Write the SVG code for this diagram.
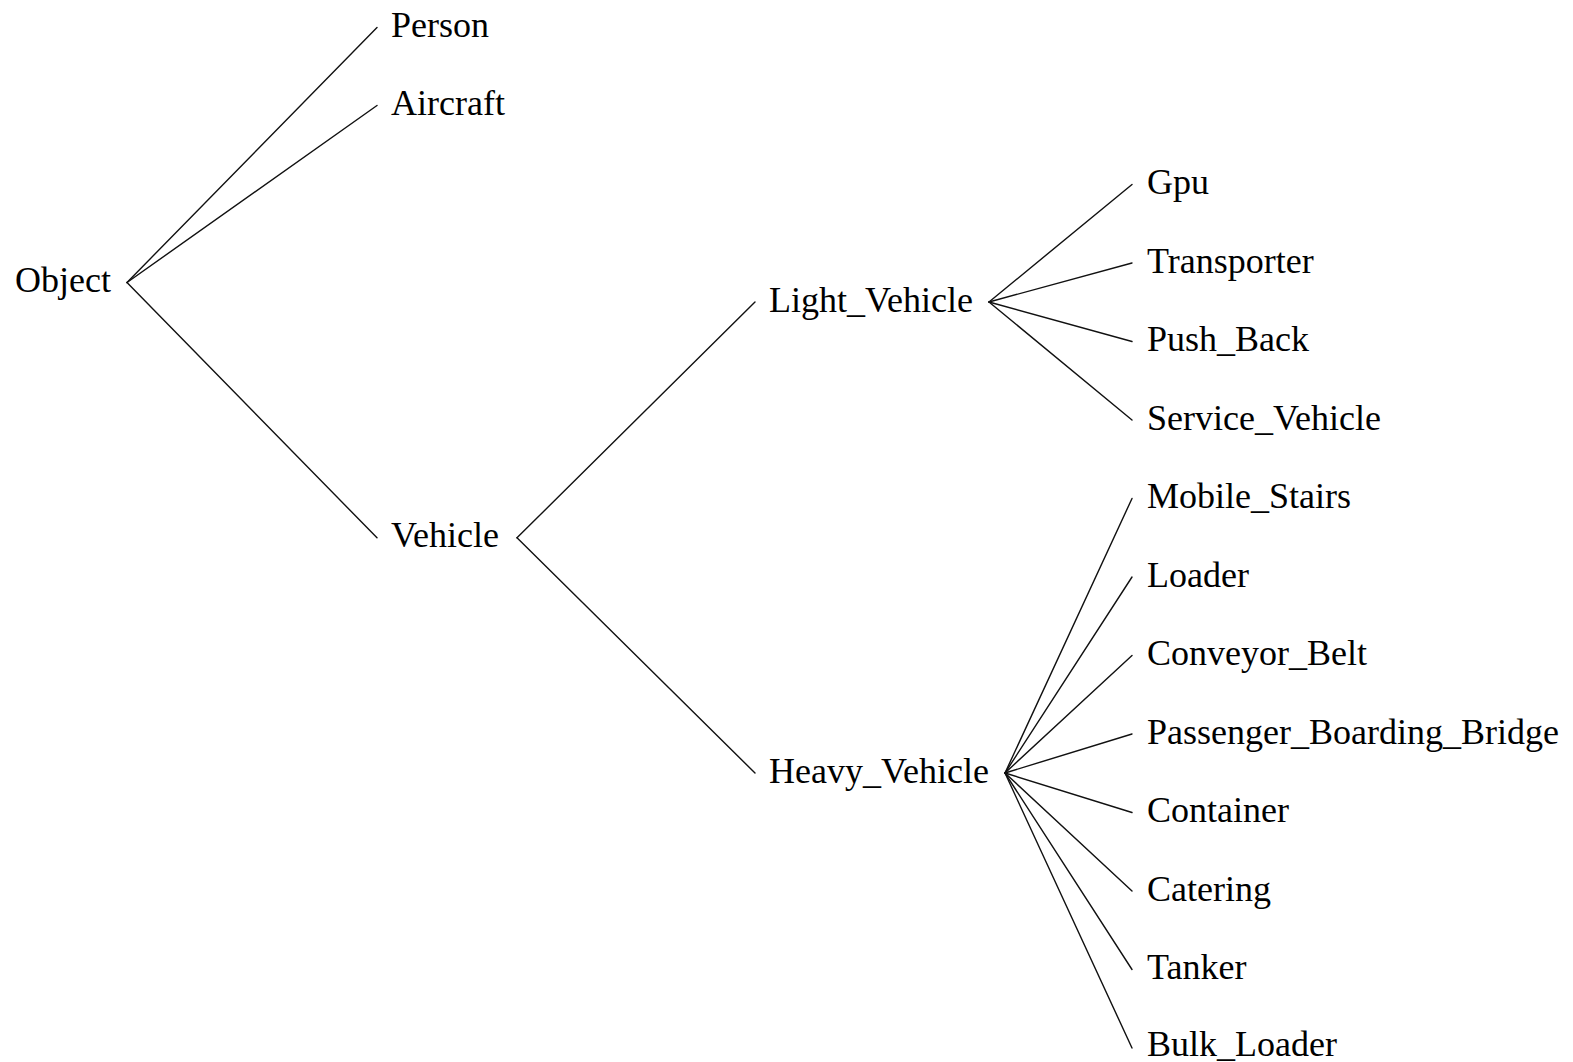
<svg xmlns="http://www.w3.org/2000/svg" width="1573" height="1062" viewBox="0 0 1573 1062">
  <style>
    .label { font-family: "Liberation Serif", "Times New Roman", serif; font-size: 36px; fill: #000; }
    .edge { stroke: #111; stroke-width: 1.4; fill: none; stroke-linecap: round; }
  </style>
  <rect width="1573" height="1062" fill="#fff"/>

  <!-- tree edges: each runs from the parent's east anchor to the child's west anchor -->
  <g id="connectors">
    <line class="edge" x1="127" y1="282.5" x2="377" y2="27.5"/>
    <line class="edge" x1="127" y1="282.5" x2="377" y2="105.5"/>
    <line class="edge" x1="127" y1="282.5" x2="377" y2="537.8"/>

    <line class="edge" x1="517" y1="537.8" x2="755" y2="302"/>
    <line class="edge" x1="517" y1="537.8" x2="755" y2="773"/>

    <line class="edge" x1="989" y1="302" x2="1132" y2="184.5"/>
    <line class="edge" x1="989" y1="302" x2="1132" y2="263"/>
    <line class="edge" x1="989" y1="302" x2="1132" y2="341.5"/>
    <line class="edge" x1="989" y1="302" x2="1132" y2="420"/>

    <line class="edge" x1="1005" y1="773" x2="1132" y2="498.5"/>
    <line class="edge" x1="1005" y1="773" x2="1132" y2="577"/>
    <line class="edge" x1="1005" y1="773" x2="1132" y2="655.5"/>
    <line class="edge" x1="1005" y1="773" x2="1132" y2="734"/>
    <line class="edge" x1="1005" y1="773" x2="1132" y2="812.5"/>
    <line class="edge" x1="1005" y1="773" x2="1132" y2="891"/>
    <line class="edge" x1="1005" y1="773" x2="1132" y2="969.5"/>
    <line class="edge" x1="1005" y1="773" x2="1132" y2="1048"/>
  </g>

  <!-- root -->
  <g id="node-object"><text class="label" x="15" y="292">Object</text></g>

  <!-- level 1 -->
  <g id="node-person"><text class="label" x="391" y="37">Person</text></g>
  <g id="node-aircraft"><text class="label" x="391" y="115">Aircraft</text></g>
  <g id="node-vehicle"><text class="label" x="391" y="547">Vehicle</text></g>

  <!-- level 2 -->
  <g id="node-light-vehicle"><text class="label" x="769" y="311.5">Light_Vehicle</text></g>
  <g id="node-heavy-vehicle"><text class="label" x="769" y="782.5">Heavy_Vehicle</text></g>

  <!-- light vehicle leaves -->
  <g id="node-gpu"><text class="label" x="1147" y="194">Gpu</text></g>
  <g id="node-transporter"><text class="label" x="1147" y="272.5">Transporter</text></g>
  <g id="node-push-back"><text class="label" x="1147" y="351">Push_Back</text></g>
  <g id="node-service-vehicle"><text class="label" x="1147" y="429.5">Service_Vehicle</text></g>

  <!-- heavy vehicle leaves -->
  <g id="node-mobile-stairs"><text class="label" x="1147" y="508">Mobile_Stairs</text></g>
  <g id="node-loader"><text class="label" x="1147" y="586.5">Loader</text></g>
  <g id="node-conveyor-belt"><text class="label" x="1147" y="665">Conveyor_Belt</text></g>
  <g id="node-passenger-boarding-bridge"><text class="label" x="1147" y="743.5">Passenger_Boarding_Bridge</text></g>
  <g id="node-container"><text class="label" x="1147" y="822">Container</text></g>
  <g id="node-catering"><text class="label" x="1147" y="900.5">Catering</text></g>
  <g id="node-tanker"><text class="label" x="1147" y="979">Tanker</text></g>
  <g id="node-bulk-loader"><text class="label" x="1147" y="1055.5">Bulk_Loader</text></g>
</svg>
